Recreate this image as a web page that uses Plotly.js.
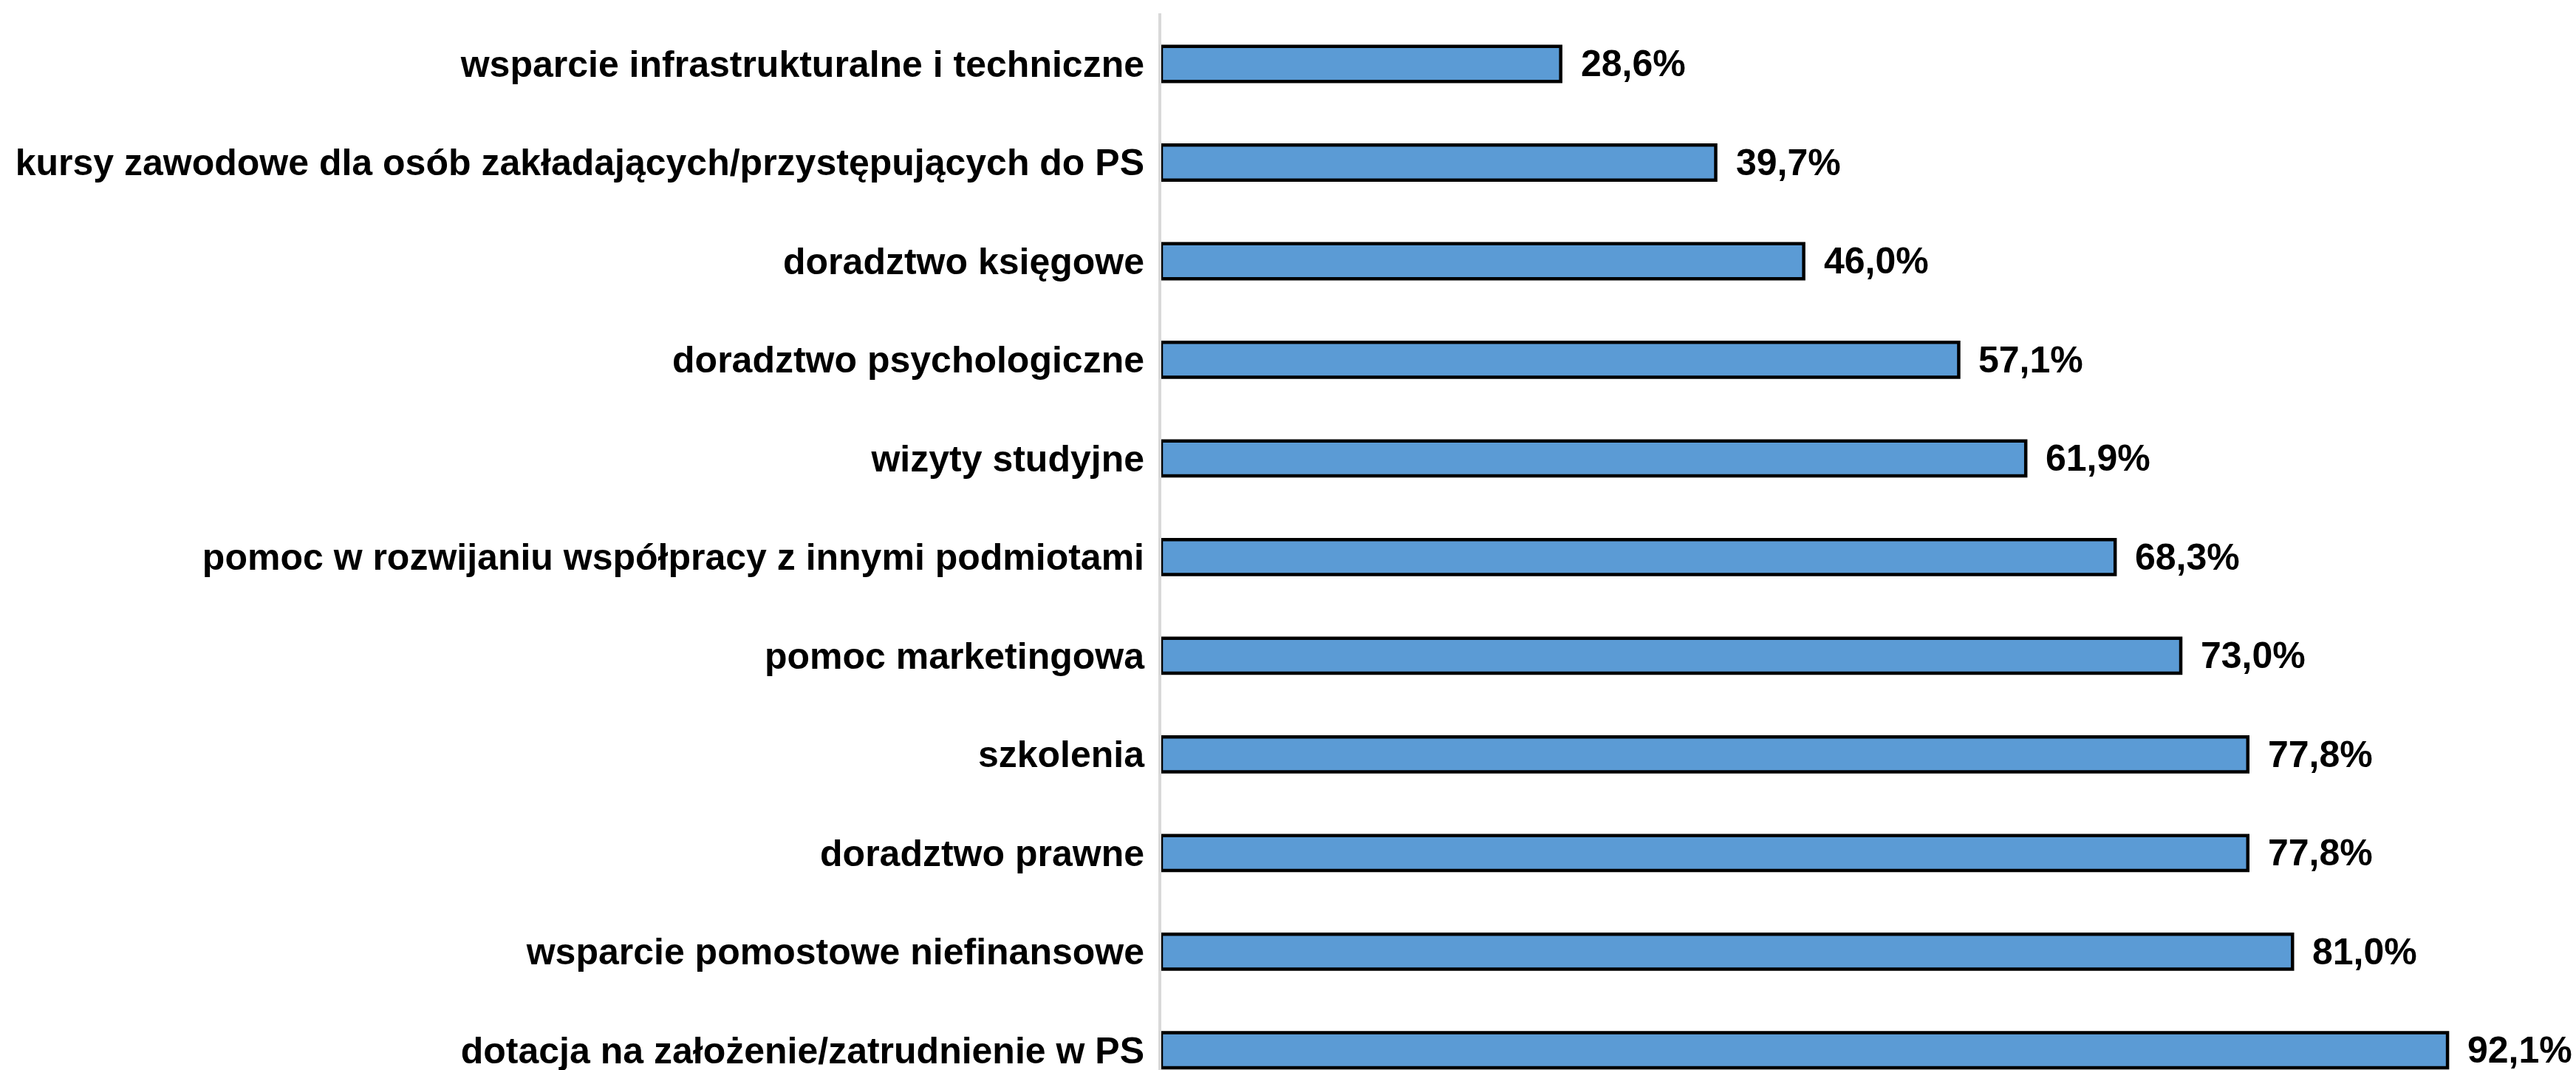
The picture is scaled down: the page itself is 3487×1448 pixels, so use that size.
<!DOCTYPE html>
<html>
<head>
<meta charset="utf-8">
<script src="https://cdn.plot.ly/plotly-3.0.1.min.js"></script>
<style>html,body{margin:0;padding:0;background:#fff;}#chart{width:3487px;height:1448px;}</style>
</head>
<body>
<div id="chart"></div>
<script>
const categories = [
  "wsparcie infrastrukturalne i techniczne",
  "kursy zawodowe dla osób zakładających/przystępujących do PS",
  "doradztwo księgowe",
  "doradztwo psychologiczne",
  "wizyty studyjne",
  "pomoc w rozwijaniu współpracy z innymi podmiotami",
  "pomoc marketingowa",
  "szkolenia",
  "doradztwo prawne",
  "wsparcie pomostowe niefinansowe",
  "dotacja na założenie/zatrudnienie w PS"
];
const values = [28.6, 39.7, 46.0, 57.1, 61.9, 68.3, 73.0, 77.8, 77.8, 81.0, 92.1];
const valueLabels = values.map(v => v.toFixed(1).replace('.', ',') + '%');

const font = {family: "Liberation Sans, Arial, sans-serif", size: 50, color: "#000000", weight: 700};

const trace = {
  type: 'bar',
  orientation: 'h',
  y: categories,
  x: values,
  width: 0.355,
  marker: {color: '#5B9BD5', line: {color: '#000000', width: 4.5}},
  hoverinfo: 'none'
};

const annotations = categories.map((c, i) => ({
  x: values[i], y: c, xref: 'x', yref: 'y',
  text: valueLabels[i], showarrow: false,
  xanchor: 'left', yanchor: 'middle', xshift: 25,
  font: font
}));

const layout = {
  width: 3487, height: 1448,
  margin: {l: 1572, r: 0, t: 18, b: 0, pad: 0},
  paper_bgcolor: '#ffffff', plot_bgcolor: '#ffffff',
  showlegend: false,
  xaxis: {range: [0, 101.3], showgrid: false, zeroline: false, showline: false, showticklabels: false, ticks: ''},
  yaxis: {type: 'category', range: [10.2, -0.513], showgrid: false, zeroline: false,
          showline: true, linecolor: '#D9D9D9', linewidth: 4, ticks: '',
          ticklabelstandoff: 9, tickfont: font, automargin: false},
  annotations: annotations
};

Plotly.newPlot('chart', [trace], layout, {staticPlot: true, displayModeBar: false});
</script>
</body>
</html>
